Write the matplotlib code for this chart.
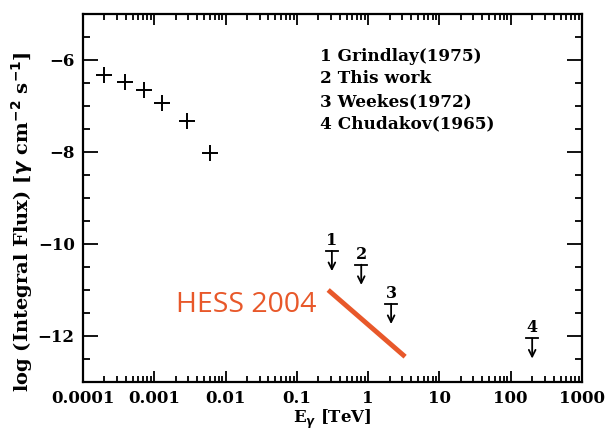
import numpy as np
import matplotlib.pyplot as plt
from matplotlib.ticker import LogLocator, MultipleLocator, FixedFormatter, FixedLocator

# crosses (log flux vs energy in TeV)
pts_e = [2.0e-4, 3.9e-4, 7.2e-4, 1.3e-3, 2.9e-3, 6.0e-3]
pts_f = [-6.32, -6.47, -6.66, -6.94, -7.32, -8.02]

# upper limits
ul_lab = ["1", "2", "3", "4"]
ul_e = [0.31, 0.8, 2.1, 200.0]
ul_f = [-10.15, -10.45, -11.3, -12.05]

# HESS 2004 line
hess_e = [0.275, 3.3]
hess_f = [-11.0, -12.45]

legend_lines = ["1 Grindlay(1975)", "2 This work", "3 Weekes(1972)", "4 Chudakov(1965)"]

xticks = [1e-4, 1e-3, 1e-2, 0.1, 1, 10, 100, 1000]
xlabels = ["0.0001", "0.001", "0.01", "0.1", "1", "10", "100", "1000"]

plt.rcParams['font.family'] = 'DejaVu Serif'
plt.rcParams['font.weight'] = 'bold'

fig = plt.figure(figsize=(6.05, 4.3), dpi=100)
ax = fig.add_axes([83/605, 1-382/430, 499/605, 368/430])

ax.set_xscale('log')
ax.set_xlim(1e-4, 1000)
ax.set_ylim(-13, -5)

ax.plot(pts_e, pts_f, '+', color='black', ms=11, mew=1.4)

for lab, e, f in zip(ul_lab, ul_e, ul_f):
    ax.plot([e/1.22, e*1.22], [f, f], color='black', lw=1.3)
    ax.annotate('', xy=(e, f-0.44), xytext=(e, f),
                arrowprops=dict(arrowstyle='->', color='black', lw=1.3,
                                shrinkA=0, shrinkB=0, mutation_scale=12))
    ax.text(e, f+0.04, lab, ha='center', va='bottom', fontsize=11.5, fontweight='bold')

ax.plot(hess_e, hess_f, color='#e8582a', lw=3.5, solid_capstyle='butt')
ax.text(0.19, -11.32, "HESS 2004", color='#e8582a', fontsize=20.5,
        family='Open Sans', fontweight='normal', ha='right', va='center')

for i, s in enumerate(legend_lines):
    ax.text(0.475, 0.885 - i*0.0615, s, transform=ax.transAxes, fontsize=12.2,
            fontweight='bold', va='center', ha='left')

ax.xaxis.set_major_locator(FixedLocator(xticks))
ax.xaxis.set_major_formatter(FixedFormatter(xlabels))
ax.xaxis.set_minor_locator(LogLocator(base=10, subs=np.arange(2, 10), numticks=20))
ax.yaxis.set_major_locator(MultipleLocator(2))
ax.yaxis.set_minor_locator(MultipleLocator(0.5))

ax.tick_params(which='both', direction='in', top=True, right=True, width=1.3)
ax.tick_params(which='major', length=11, labelsize=12, pad=6)
ax.tick_params(which='minor', length=5)
ax.tick_params(axis='x', which='minor', length=4)
ax.tick_params(axis='x', which='major', length=8)
for lbl in ax.get_xticklabels() + ax.get_yticklabels():
    lbl.set_fontweight('bold')
ax.set_yticks([-6, -8, -10, -12])
ax.set_yticklabels(["\u22126", "\u22128", "\u221210", "\u221212"], fontweight='bold')
for sp in ax.spines.values():
    sp.set_linewidth(1.6)

ax.set_xlabel(r"E$_\gamma$ [TeV]", fontsize=12, fontweight='bold', labelpad=0)
fig.text(22/605, 1-222/430, r"log (Integral Flux) [$\gamma$ cm$^{-2}$ s$^{-1}$]",
         fontsize=14, fontweight='bold', rotation=90, ha='center', va='center')

fig.savefig("out.png", dpi=100)
